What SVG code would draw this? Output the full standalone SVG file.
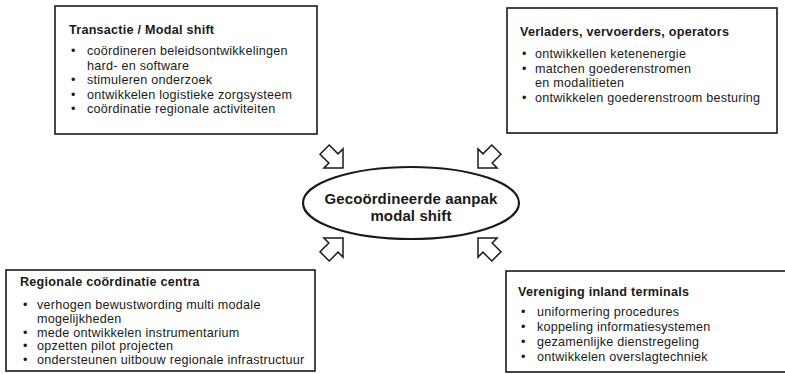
<svg xmlns="http://www.w3.org/2000/svg" width="785" height="374" viewBox="0 0 785 374">
<style>
.box{fill:#fff;stroke:#1a1a1a;stroke-width:1.6}
.t{font-family:"Liberation Sans",Arial,sans-serif;font-size:12.6px;letter-spacing:0.25px;fill:#1a1a1a}
.h{font-family:"Liberation Sans",Arial,sans-serif;font-size:12.6px;letter-spacing:0.25px;font-weight:bold;fill:#1a1a1a}
.c{font-family:"Liberation Sans",Arial,sans-serif;font-size:15px;letter-spacing:0.1px;font-weight:bold;fill:#1a1a1a;text-anchor:middle}
.arr{fill:#fff;stroke:#1a1a1a;stroke-width:1.5;stroke-linejoin:miter}
</style>
<defs>
<path id="a" d="M0,0 L-13.5,-13.5 L-13.5,-6.5 L-26,-6.5 L-26,6.5 L-13.5,6.5 L-13.5,13.5 Z"/>
</defs>
<rect width="785" height="374" fill="#fff"/>
<g id="transactie">
<rect class="box" x="55" y="6" width="262" height="128"/>
<text class="h" x="69" y="34">Transactie / Modal shift</text>
<text class="t" x="71" y="55">•</text><text class="t" x="87" y="55">coördineren beleidsontwikkelingen</text>
<text class="t" x="87" y="69.5">hard- en software</text>
<text class="t" x="71" y="84">•</text><text class="t" x="87" y="84">stimuleren onderzoek</text>
<text class="t" x="71" y="98.5">•</text><text class="t" x="87" y="98.5">ontwikkelen logistieke zorgsysteem</text>
<text class="t" x="71" y="113">•</text><text class="t" x="87" y="113">coördinatie regionale activiteiten</text>
</g>
<g id="verladers">
<rect class="box" x="507" y="8" width="270" height="125"/>
<text class="h" x="520" y="36">Verladers, vervoerders, operators</text>
<text class="t" x="522" y="58">•</text><text class="t" x="535" y="58">ontwikkellen ketenenergie</text>
<text class="t" x="522" y="72.5">•</text><text class="t" x="535" y="72.5">matchen goederenstromen</text>
<text class="t" x="535" y="87">en modalitieten</text>
<text class="t" x="522" y="101.5">•</text><text class="t" x="535" y="101.5">ontwikkelen goederenstroom besturing</text>
</g>
<g id="regionale">
<rect class="box" x="6" y="270" width="309" height="101"/>
<text class="h" x="20" y="286">Regionale coördinatie centra</text>
<text class="t" x="23" y="309">•</text><text class="t" x="37" y="309">verhogen bewustwording multi modale</text>
<text class="t" x="37" y="322.8">mogelijkheden</text>
<text class="t" x="23" y="336.6">•</text><text class="t" x="37" y="336.6">mede ontwikkelen instrumentarium</text>
<text class="t" x="23" y="350.4">•</text><text class="t" x="37" y="350.4">opzetten pilot projecten</text>
<text class="t" x="23" y="364.2">•</text><text class="t" x="37" y="364.2">ondersteunen uitbouw regionale infrastructuur</text>
</g>
<g id="vereniging">
<rect class="box" x="506" y="271" width="290" height="101"/>
<text class="h" x="518" y="295.5">Vereniging inland terminals</text>
<text class="t" x="521" y="316">•</text><text class="t" x="537" y="316">uniformering procedures</text>
<text class="t" x="521" y="331">•</text><text class="t" x="537" y="331">koppeling informatiesystemen</text>
<text class="t" x="521" y="345.5">•</text><text class="t" x="537" y="345.5">gezamenlijke dienstregeling</text>
<text class="t" x="521" y="360.5">•</text><text class="t" x="537" y="360.5">ontwikkelen overslagtechniek</text>
</g>
<g id="aanpak">
<ellipse cx="411" cy="203" rx="108" ry="36" fill="#fff" stroke="#1a1a1a" stroke-width="2.2"/>
<text class="c" x="411" y="204">Gecoördineerde aanpak</text>
<text class="c" x="411" y="221">modal shift</text>
</g>
<g id="connectors">
<use href="#a" class="arr" transform="translate(343,168) rotate(45)"/>
<use href="#a" class="arr" transform="translate(478,168) rotate(135)"/>
<use href="#a" class="arr" transform="translate(343,238) rotate(-45)"/>
<use href="#a" class="arr" transform="translate(478,238) rotate(-135)"/>
</g>
</svg>
